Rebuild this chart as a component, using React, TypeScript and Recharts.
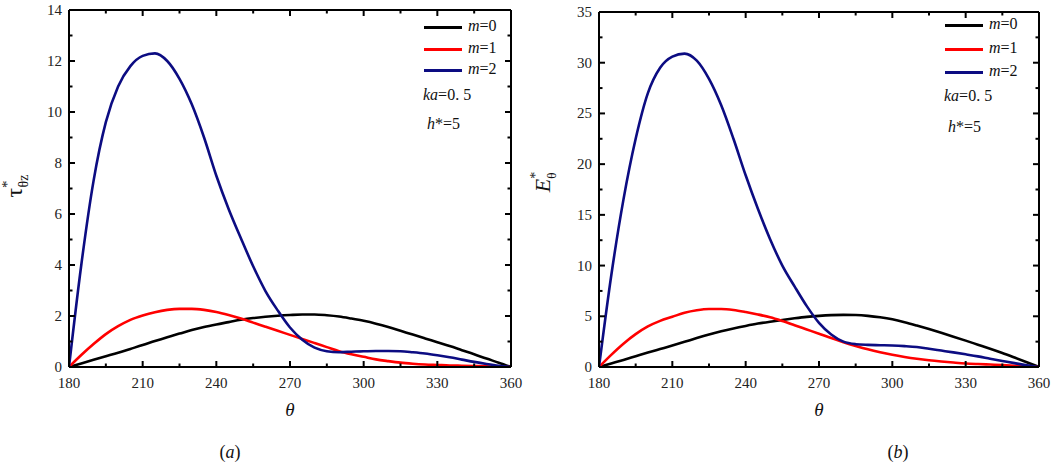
import React from 'react'
import { LineChart, Line, XAxis, YAxis } from 'recharts'

// ─── data ────────────────────────────────────────────────────────────────
const THETA = [
  180, 185, 190, 195, 200, 205, 210, 215, 220, 225, 230, 235, 240, 245, 250, 255, 260, 265,
  270, 275, 280, 285, 290, 295, 300, 305, 310, 315, 320, 325, 330, 335, 340, 345, 350, 355, 360,
]

// (a) tau*_θz
const TAU_M0 = [
  0, 0.14, 0.28, 0.42, 0.56, 0.71, 0.86, 1.02, 1.17, 1.31, 1.45, 1.57, 1.67, 1.76, 1.85, 1.92, 1.97, 2.01,
  2.04, 2.06, 2.06, 2.03, 1.98, 1.9, 1.81, 1.7, 1.57, 1.42, 1.27, 1.12, 0.97, 0.82, 0.66, 0.5, 0.33, 0.17, 0,
]
const TAU_M1 = [
  0, 0.47, 0.9, 1.29, 1.6, 1.85, 2.02, 2.15, 2.24, 2.28, 2.28, 2.24, 2.16, 2.04, 1.9, 1.74, 1.58, 1.42,
  1.26, 1.1, 0.94, 0.78, 0.62, 0.5, 0.4, 0.3, 0.23, 0.17, 0.13, 0.1, 0.08, 0.06, 0.05, 0.04, 0.03, 0.01, 0,
]
const TAU_M2 = [
  0, 4.0, 7.3, 9.6, 11.0, 11.8, 12.2, 12.3, 12.0, 11.3, 10.3, 9.0, 7.5, 6.2, 5.05, 3.95, 2.98, 2.22,
  1.55, 1.07, 0.76, 0.62, 0.58, 0.6, 0.62, 0.63, 0.63, 0.62, 0.58, 0.53, 0.46, 0.38, 0.29, 0.2, 0.12, 0.05, 0,
]

// (b) E*_θ
const E_M0 = [
  0, 0.35, 0.7, 1.06, 1.42, 1.77, 2.12, 2.48, 2.85, 3.2, 3.52, 3.8, 4.05, 4.28, 4.47, 4.64, 4.8, 4.94,
  5.04, 5.11, 5.14, 5.12, 5.04, 4.9, 4.7, 4.42, 4.09, 3.74, 3.37, 2.99, 2.6, 2.2, 1.8, 1.38, 0.93, 0.47, 0,
]
const E_M1 = [
  0, 1.2, 2.3, 3.24, 4.0, 4.55, 4.95, 5.35, 5.6, 5.72, 5.72, 5.62, 5.42, 5.18, 4.9, 4.53, 4.12, 3.7,
  3.28, 2.85, 2.45, 2.08, 1.74, 1.45, 1.2, 0.99, 0.81, 0.66, 0.54, 0.44, 0.35, 0.29, 0.24, 0.19, 0.13, 0.07, 0,
]
const E_M2 = [
  0, 9.0, 16.5, 22.5, 27.0, 29.5, 30.6, 30.9, 30.2, 28.4, 25.8, 22.5, 18.9, 15.6, 12.6, 10.0, 7.95, 6.0,
  4.35, 3.2, 2.5, 2.25, 2.18, 2.15, 2.12, 2.06, 1.97, 1.8, 1.62, 1.44, 1.25, 1.05, 0.82, 0.6, 0.38, 0.17, 0,
]

// ticks
const X_TICKS = [180, 195, 210, 225, 240, 255, 270, 285, 300, 315, 330, 345, 360]
const X_MAJOR = [180, 210, 240, 270, 300, 330, 360]
const TAU_TICKS = [0, 1, 2, 3, 4, 5, 6, 7, 8, 9, 10, 11, 12, 13, 14]
const TAU_MAJOR = [0, 2, 4, 6, 8, 10, 12, 14]
const E_TICKS = [0, 2.5, 5, 7.5, 10, 12.5, 15, 17.5, 20, 22.5, 25, 27.5, 30, 32.5, 35]
const E_MAJOR = [0, 5, 10, 15, 20, 25, 30, 35]

const SERIES = [
  { key: 'm0', m: '0', color: '#000000' },
  { key: 'm1', m: '1', color: '#ff0000' },
  { key: 'm2', m: '2', color: '#0c0c82' },
]

const SERIF = '"Liberation Serif", "DejaVu Serif", "Times New Roman", serif'

type Side = 'bottom' | 'top' | 'left' | 'right'

// inward ticks (major + minor) drawn by hand; labels only on bottom / left
function makeTick(side: Side, major: number[]) {
  return (p: any) => {
    const { x, y, payload } = p
    const isMajor = major.includes(payload.value)
    const len = isMajor ? 6 : 3.5
    let x2 = x
    let y2 = y
    if (side === 'bottom') y2 = y - len
    if (side === 'top') y2 = y + len
    if (side === 'left') x2 = x + len
    if (side === 'right') x2 = x - len
    return (
      <g>
        <line x1={x} y1={y} x2={x2} y2={y2} stroke="#000" strokeWidth={2} />
        {isMajor && side === 'bottom' && (
          <text x={x} y={y + 21} textAnchor="middle" fontFamily={SERIF} fontSize={15} fill="#222">
            {payload.value}
          </text>
        )}
        {isMajor && side === 'left' && (
          <text x={x - 7} y={y + 5} textAnchor="end" fontFamily={SERIF} fontSize={15} fill="#222">
            {payload.value}
          </text>
        )}
      </g>
    )
  }
}

type PanelProps = {
  offsetX: number
  m0: number[]
  m1: number[]
  m2: number[]
  yMax: number
  yTicks: number[]
  yMajor: number[]
  yAxisWidth: number
  top: number
  right: number
  yLabel: React.ReactNode
  titleX: number
  caption: string
  captionX: number
  legendX: number
  legendRows: number[]
  kaY: number
  hY: number
}

function Panel(p: PanelProps) {
  const data = THETA.map((t, i) => ({ theta: t, m0: p.m0[i], m1: p.m1[i], m2: p.m2[i] }))
  const axisLine = { stroke: '#000', strokeWidth: 2 }
  const textStyle: React.CSSProperties = {
    position: 'absolute',
    fontFamily: SERIF,
    fontSize: 16,
    lineHeight: '20px',
    color: '#111',
    whiteSpace: 'nowrap',
  }

  return (
    <div style={{ position: 'absolute', left: p.offsetX, top: 0, width: 526, height: 464 }}>
      <LineChart
        width={526}
        height={464}
        data={data}
        // the mirrored top / right axes take 1px each, so the plot box stays where it was
        margin={{ top: p.top - 1, right: p.right - 1, bottom: 0, left: 0 }}
      >
        <XAxis
          dataKey="theta"
          type="number"
          domain={[180, 360]}
          ticks={X_TICKS}
          interval={0}
          height={97}
          tickSize={0}
          tickMargin={0}
          axisLine={axisLine}
          tick={makeTick('bottom', X_MAJOR)}
          allowDataOverflow
          label={
            <text x={p.titleX} y={421} textAnchor="middle" fontFamily={SERIF} fontSize={19} fontStyle="italic" fill="#111">
              θ
            </text>
          }
        />
        <XAxis
          xAxisId="top"
          orientation="top"
          dataKey="theta"
          type="number"
          domain={[180, 360]}
          ticks={X_TICKS}
          interval={0}
          height={1}
          tickSize={0}
          tickMargin={0}
          axisLine={axisLine}
          tick={makeTick('top', X_MAJOR)}
          allowDataOverflow
        />
        <YAxis
          type="number"
          domain={[0, p.yMax]}
          ticks={p.yTicks}
          interval={0}
          width={p.yAxisWidth}
          tickSize={0}
          tickMargin={0}
          axisLine={axisLine}
          tick={makeTick('left', p.yMajor)}
          allowDataOverflow
          label={p.yLabel}
        />
        <YAxis
          yAxisId="r"
          orientation="right"
          type="number"
          domain={[0, p.yMax]}
          ticks={p.yTicks}
          interval={0}
          width={1}
          tickSize={0}
          tickMargin={0}
          axisLine={axisLine}
          tick={makeTick('right', p.yMajor)}
          allowDataOverflow
        />
        {/* invisible series bound to the mirrored axes */}
        <Line
          xAxisId="top"
          yAxisId="r"
          dataKey="m0"
          stroke="none"
          dot={false}
          activeDot={false}
          isAnimationActive={false}
        />
        {SERIES.map((s) => (
          <Line
            key={s.key}
            dataKey={s.key}
            type="monotone"
            stroke={s.color}
            strokeWidth={2.6}
            dot={false}
            activeDot={false}
            isAnimationActive={false}
          />
        ))}
      </LineChart>

      {/* legend + parameters */}
      {SERIES.map((s, i) => (
        <React.Fragment key={s.key}>
          <div
            style={{
              position: 'absolute',
              left: p.legendX,
              top: p.legendRows[i] - 1.5,
              width: 38,
              height: 3,
              background: s.color,
            }}
          />
          <div style={{ ...textStyle, left: p.legendX + 44, top: p.legendRows[i] - 11 }}>
            <i>m</i>={s.m}
          </div>
        </React.Fragment>
      ))}
      <div style={{ ...textStyle, left: p.legendX - 1, top: p.kaY - 11 }}>
        <i>ka</i>=0. 5
      </div>
      <div style={{ ...textStyle, left: p.legendX + 3, top: p.hY - 11 }}>
        <i>h</i>*=5
      </div>

      <div
        style={{
          ...textStyle,
          fontSize: 18,
          left: p.captionX - 30,
          width: 60,
          textAlign: 'center',
          top: 442,
        }}
      >
        (<i>{p.caption}</i>)
      </div>
    </div>
  )
}

const TauLabel = () => (
  <text transform="translate(22,186) rotate(-90)" textAnchor="middle" fontFamily={SERIF} fill="#111">
    <tspan fontSize={24}>τ</tspan>
    <tspan fontSize={15} dy={-10}>*</tspan>
    <tspan fontSize={14} dx={-7} dy={16}>θz</tspan>
  </text>
)

const ELabel = () => (
  <text transform="translate(24,182) rotate(-90)" textAnchor="middle" fontFamily={SERIF} fill="#111">
    <tspan fontSize={22} fontStyle="italic">E</tspan>
    <tspan fontSize={14} dy={-10}>*</tspan>
    <tspan fontSize={13} dx={-7} dy={16}>θ</tspan>
  </text>
)

export default function App() {
  return (
    <div style={{ position: 'absolute', left: 0, top: 0, width: 1052, height: 464, background: '#fff' }}>
      <Panel
        offsetX={0}
        m0={TAU_M0}
        m1={TAU_M1}
        m2={TAU_M2}
        yMax={14}
        yTicks={TAU_TICKS}
        yMajor={TAU_MAJOR}
        yAxisWidth={69}
        top={10}
        right={15}
        yLabel={<TauLabel />}
        titleX={305}
        caption="a"
        captionX={230}
        legendX={424}
        legendRows={[27, 49, 70]}
        kaY={96}
        hY={125}
      />
      <Panel
        offsetX={526}
        m0={E_M0}
        m1={E_M1}
        m2={E_M2}
        yMax={35}
        yTicks={E_TICKS}
        yMajor={E_MAJOR}
        yAxisWidth={73}
        top={12}
        right={13}
        yLabel={<ELabel />}
        titleX={295}
        caption="b"
        captionX={372}
        legendX={419}
        legendRows={[25, 49, 72]}
        kaY={97}
        hY={128}
      />
    </div>
  )
}
